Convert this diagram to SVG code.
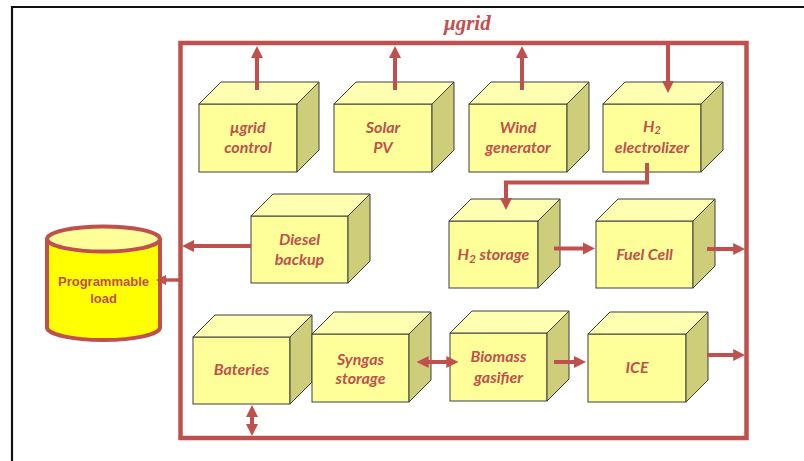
<svg xmlns="http://www.w3.org/2000/svg" width="804" height="461" viewBox="0 0 804 461">
  <defs>
    <style>
      .frame { fill: none; stroke: #C0504D; stroke-width: 4.5; stroke-linejoin: miter; }
      .link { fill: none; stroke: #C0504D; stroke-width: 4; }
      .arrow { marker-end: url(#head); }
      .both { marker-start: url(#head); marker-end: url(#head); }
      .front { fill: #FFFF99; stroke: #3F3F3F; stroke-width: 1; }
      .top { fill: #FFFFB2; stroke: #3F3F3F; stroke-width: 1; stroke-linejoin: round; }
      .side { fill: #CDCD7A; stroke: #3F3F3F; stroke-width: 1; stroke-linejoin: round; }
      .label { font-family: "Lato", "Liberation Sans", sans-serif; font-weight: bold; font-style: italic; font-size: 16px; fill: #C0504D; text-anchor: middle; }
      .title { font-family: "Liberation Serif", "DejaVu Serif", serif; font-weight: bold; font-style: italic; font-size: 21px; fill: #C0504D; }
      .load { font-family: "Liberation Sans", "DejaVu Sans", sans-serif; font-weight: bold; font-size: 13px; fill: #C0504D; text-anchor: middle; }
    </style>
    <marker id="head" viewBox="0 0 10 10" refX="2" refY="5" markerWidth="3" markerHeight="3.3" orient="auto-start-reverse" markerUnits="strokeWidth">
      <path d="M0,0 L10,5 L0,10 z" fill="#C0504D"/>
    </marker>
  </defs>

  <rect width="804" height="461" fill="#FFFFFF"/>

  <!-- page border -->
  <path d="M12,461 V7 H804" fill="none" stroke="#111111" stroke-width="2.2"/>

  <!-- microgrid bus -->
  <g id="bus">
    <rect class="frame" x="180.5" y="43" width="566" height="395"/>
    <text class="title" x="444" y="30">μgrid</text>
  </g>

  <!-- programmable load -->
  <g id="load">
    <path d="M47,239 V327.5 A56.5,12.5 0 0 0 160,327.5 V239" fill="#FFFF00" stroke="#C0504D" stroke-width="4"/>
    <ellipse cx="103.5" cy="239" rx="56.5" ry="12.5" fill="#FFFF99" stroke="#C0504D" stroke-width="4"/>
    <text class="load" x="103.5" y="286">Programmable</text>
    <text class="load" x="103.5" y="303">load</text>
  </g>

  <!-- units: front face, top face, side face, label -->
  <g id="ugrid-control">
    <rect class="front" x="199" y="104" width="98" height="68"/>
    <polygon class="top" points="199,104 221,82 319,82 297,104"/>
    <polygon class="side" points="297,104 319,82 319,150 297,172"/>
    <text class="label" x="248" y="133">μgrid</text>
    <text class="label" x="248" y="153">control</text>
  </g>

  <g id="solar-pv">
    <rect class="front" x="334" y="104" width="98" height="68"/>
    <polygon class="top" points="334,104 356,82 454,82 432,104"/>
    <polygon class="side" points="432,104 454,82 454,150 432,172"/>
    <text class="label" x="383" y="133">Solar</text>
    <text class="label" x="383" y="153">PV</text>
  </g>

  <g id="wind-generator">
    <rect class="front" x="469" y="104" width="98" height="68"/>
    <polygon class="top" points="469,104 491,82 589,82 567,104"/>
    <polygon class="side" points="567,104 589,82 589,150 567,172"/>
    <text class="label" x="518" y="133">Wind</text>
    <text class="label" x="518" y="153">generator</text>
  </g>

  <g id="h2-electrolizer">
    <rect class="front" x="603" y="104" width="98" height="68"/>
    <polygon class="top" points="603,104 625,82 723,82 701,104"/>
    <polygon class="side" points="701,104 723,82 723,150 701,172"/>
    <text class="label" x="652" y="132">H<tspan font-size="11" dy="2">2</tspan></text>
    <text class="label" x="652" y="153">electrolizer</text>
  </g>

  <g id="diesel-backup">
    <rect class="front" x="251" y="216" width="97" height="67"/>
    <polygon class="top" points="251,216 273,194 370,194 348,216"/>
    <polygon class="side" points="348,216 370,194 370,261 348,283"/>
    <text class="label" x="299.5" y="245">Diesel</text>
    <text class="label" x="299.5" y="265">backup</text>
  </g>

  <g id="h2-storage">
    <rect class="front" x="449" y="221" width="89" height="67"/>
    <polygon class="top" points="449,221 471,199 560,199 538,221"/>
    <polygon class="side" points="538,221 560,199 560,266 538,288"/>
    <text class="label" x="493.5" y="260">H<tspan font-size="12" dy="3">2</tspan><tspan dy="-3"> storage</tspan></text>
  </g>

  <g id="fuel-cell">
    <rect class="front" x="596" y="221" width="97" height="67"/>
    <polygon class="top" points="596,221 618,199 715,199 693,221"/>
    <polygon class="side" points="693,221 715,199 715,266 693,288"/>
    <text class="label" x="644.5" y="260">Fuel Cell</text>
  </g>

  <g id="bateries">
    <rect class="front" x="193" y="337" width="97" height="67"/>
    <polygon class="top" points="193,337 215,315 312,315 290,337"/>
    <polygon class="side" points="290,337 312,315 312,382 290,404"/>
    <text class="label" x="241.5" y="375">Bateries</text>
  </g>

  <g id="syngas-storage">
    <rect class="front" x="312" y="334" width="97" height="68"/>
    <polygon class="top" points="312,334 334,312 431,312 409,334"/>
    <polygon class="side" points="409,334 431,312 431,380 409,402"/>
    <text class="label" x="360.5" y="365">Syngas</text>
    <text class="label" x="360.5" y="384">storage</text>
  </g>

  <g id="biomass-gasifier">
    <rect class="front" x="450" y="333" width="97" height="68"/>
    <polygon class="top" points="450,333 472,311 569,311 547,333"/>
    <polygon class="side" points="547,333 569,311 569,379 547,401"/>
    <text class="label" x="498.5" y="362">Biomass</text>
    <text class="label" x="498.5" y="383">gasifier</text>
  </g>

  <g id="ice">
    <rect class="front" x="588" y="334" width="98" height="68"/>
    <polygon class="top" points="588,334 610,312 708,312 686,334"/>
    <polygon class="side" points="686,334 708,312 708,380 686,402"/>
    <text class="label" x="637" y="373">ICE</text>
  </g>

  <!-- connectors -->
  <g id="connectors">
    <line class="link arrow" x1="257" y1="90" x2="257" y2="55.6"/>
    <line class="link arrow" x1="395" y1="90" x2="395" y2="55.6"/>
    <line class="link arrow" x1="522" y1="90" x2="522" y2="55.6"/>
    <line class="link arrow" x1="668" y1="43" x2="668" y2="83.4"/>
    <path class="link arrow" d="M647,163 V182.5 H506 V200.4"/>
    <line class="link arrow" x1="251" y1="246" x2="191.6" y2="246"/>
    <line class="link arrow" x1="181" y1="280" x2="164" y2="280" style="stroke-width:3.4"/>
    <line class="link arrow" x1="554" y1="248.5" x2="585.4" y2="248.5"/>
    <line class="link arrow" x1="707" y1="249" x2="735.6" y2="249"/>
    <line class="link both" x1="426.3" y1="362" x2="448.7" y2="362"/>
    <line class="link arrow" x1="554" y1="362" x2="576.4" y2="362"/>
    <line class="link arrow" x1="707" y1="355" x2="735.6" y2="355"/>
    <line class="link both" x1="252" y1="414.6" x2="252" y2="426.4"/>
  </g>
</svg>
